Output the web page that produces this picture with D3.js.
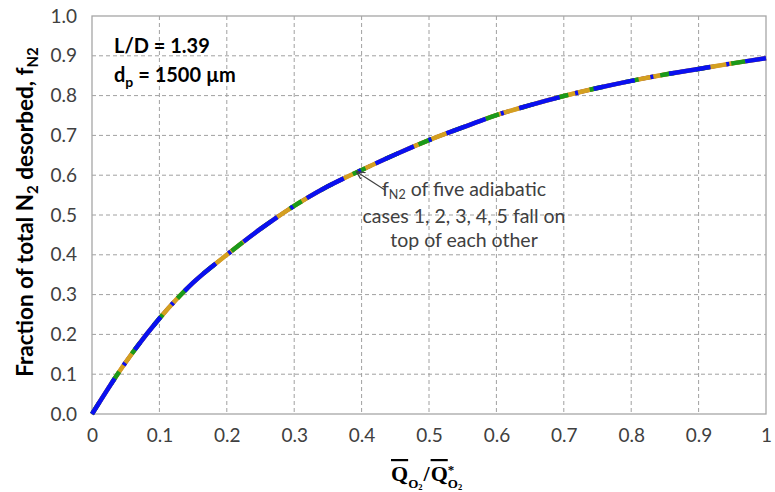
<!DOCTYPE html>
<html><head><meta charset="utf-8">
<script src="https://cdn.jsdelivr.net/npm/d3@7"></script>
<style>body{margin:0;background:#fff}svg{display:block}</style>
</head><body>
<svg id="c" width="775" height="492"></svg>
<script>
const xValues = [0,0.05,0.1,0.15,0.2,0.25,0.3,0.35,0.4,0.45,0.5,0.55,0.6,0.65,0.7,0.75,0.8,0.85,0.9,0.95,1.0];
const case1 = [0,0.13,0.24,0.33,0.40,0.465,0.523,0.572,0.613,0.652,0.688,0.72,0.751,0.776,0.799,0.819,0.837,0.853,0.867,0.881,0.894];
const case2 = [0,0.13,0.24,0.33,0.40,0.465,0.523,0.572,0.613,0.652,0.688,0.72,0.751,0.776,0.799,0.819,0.837,0.853,0.867,0.881,0.894];
const case3 = [0,0.13,0.24,0.33,0.40,0.465,0.523,0.572,0.613,0.652,0.688,0.72,0.751,0.776,0.799,0.819,0.837,0.853,0.867,0.881,0.894];
const case4 = [0,0.13,0.24,0.33,0.40,0.465,0.523,0.572,0.613,0.652,0.688,0.72,0.751,0.776,0.799,0.819,0.837,0.853,0.867,0.881,0.894];
const case5 = [0,0.13,0.24,0.33,0.40,0.465,0.523,0.572,0.613,0.652,0.688,0.72,0.751,0.776,0.799,0.819,0.837,0.853,0.867,0.881,0.894];
const xTicks = [0,0.1,0.2,0.3,0.4,0.5,0.6,0.7,0.8,0.9,1];
const yTicks = [0,0.1,0.2,0.3,0.4,0.5,0.6,0.7,0.8,0.9,1.0];

const svg = d3.select("#c");
const L=92, R=766, T=16, B=414;
const x = d3.scaleLinear().domain([0,1]).range([L,R]);
const y = d3.scaleLinear().domain([0,1]).range([B,T]);
const font = "Lato, 'Open Sans', sans-serif";

// grid
svg.append("g").selectAll("line").data(xTicks.slice(1,-1)).join("line")
  .attr("x1",d=>x(d)).attr("x2",d=>x(d)).attr("y1",T).attr("y2",B)
  .attr("stroke","#a0a0a0").attr("stroke-dasharray","4,3").attr("stroke-width",1);
svg.append("g").selectAll("line").data(yTicks.slice(1,-1)).join("line")
  .attr("y1",d=>y(d)).attr("y2",d=>y(d)).attr("x1",L).attr("x2",R)
  .attr("stroke","#a0a0a0").attr("stroke-dasharray","4,3").attr("stroke-width",1);
svg.append("rect").attr("x",L).attr("y",T).attr("width",R-L).attr("height",B-T)
  .attr("fill","none").attr("stroke","#a6a6a6").attr("stroke-width",1.3);

// axes
const xa = svg.append("g").attr("transform",`translate(0,${B})`)
  .call(d3.axisBottom(x).tickValues(xTicks).tickFormat(d=>d===0||d===1?d3.format("d")(d):d3.format(".1f")(d)).tickSize(0).tickPadding(15));
const ya = svg.append("g").attr("transform",`translate(${L},0)`)
  .call(d3.axisLeft(y).tickValues(yTicks).tickFormat(d3.format(".1f")).tickSize(0).tickPadding(15));
[xa,ya].forEach(a=>{a.select(".domain").remove();
  a.selectAll("text").attr("font-family",font).attr("font-size",19).attr("fill","#404040");});

// curves
const pts = arr => xValues.map((v,i)=>[v,arr[i]]);
const line = d3.line().x(d=>x(d[0])).y(d=>y(d[1])).curve(d3.curveMonotoneX);
const series = [
  {data:case1,color:"#e8607a",w:4,dash:null},
  {data:case2,color:"#7030a0",w:4,dash:"20,10"},
  {data:case3,color:"#d4a020",w:4.5,dash:null},
  {data:case4,color:"#1a9a1a",w:4.5,dash:"14,22"},
  {data:case5,color:"#0a10f0",w:4.5,dash:"42,16,3,16"}
];
svg.append("g").selectAll("path").data(series).join("path")
  .attr("d",d=>line(pts(d.data))).attr("fill","none")
  .attr("stroke",d=>d.color).attr("stroke-width",d=>d.w)
  .attr("stroke-dasharray",d=>d.dash);

// annotation
svg.append("defs").append("marker").attr("id","ah").attr("viewBox","0 0 10 10")
  .attr("refX",9).attr("refY",5).attr("markerWidth",7).attr("markerHeight",7).attr("orient","auto")
  .append("path").attr("d","M0,0 L10,5 L0,10").attr("fill","none").attr("stroke","#404040").attr("stroke-width",1.5);
svg.append("line").attr("x1",385).attr("y1",190).attr("x2",357).attr("y2",172)
  .attr("stroke","#404040").attr("stroke-width",1.2).attr("marker-end","url(#ah)");
const ann = svg.append("g").attr("font-family",font).attr("font-size",19.5).attr("fill","#404040").attr("text-anchor","middle");
const t1 = ann.append("text").attr("x",464).attr("y",196);
t1.append("tspan").text("f");
t1.append("tspan").attr("font-size",12.5).attr("dy",3).text("N2");
t1.append("tspan").attr("dy",-3).text(" of five adiabatic");
ann.append("text").attr("x",464).attr("y",222.5).text("cases 1, 2, 3, 4, 5 fall on");
ann.append("text").attr("x",464).attr("y",247).text("top of each other");

// parameters box
const p = svg.append("g").attr("font-family",font).attr("font-size",20).attr("font-weight","bold").attr("fill","#000");
p.append("text").attr("x",114).attr("y",53).text("L/D = 1.39");
const t2 = p.append("text").attr("x",114).attr("y",82);
t2.append("tspan").text("d");
t2.append("tspan").attr("font-size",14).attr("dy",5).text("p");
t2.append("tspan").attr("dy",-5).text(" = 1500 µm");

// y title
const yt = svg.append("text").attr("transform","translate(33,212) rotate(-90)")
  .attr("text-anchor","middle").attr("font-family",font).attr("font-size",22.5).attr("font-weight","bold");
yt.append("tspan").text("Fraction of total N");
yt.append("tspan").attr("font-size",15).attr("dy",5).text("2");
yt.append("tspan").attr("dy",-5).text(" desorbed, f");
yt.append("tspan").attr("font-size",15).attr("dy",5).text("N2");

// x title (pieces placed one after another)
const xg = svg.append("g").attr("font-family","'Liberation Serif', 'DejaVu Serif', serif").attr("font-weight","bold").attr("fill","#000");
let cx = 391;
const base = 481;
function piece(txt, size, dy, advance=true, deco=null){
  const t = xg.append("text").attr("x",cx).attr("y",base+dy).attr("font-size",size).text(txt);
  if(deco) t.attr("text-decoration",deco);
  const w = t.node().getComputedTextLength();
  if(advance) cx += w;
  return w;
}
piece("Q",22,0,true,"overline");
piece("O",13,7);
piece("2",8.5,9);
cx += 1;
piece("/",22,0);
cx += 1;
piece("Q",22,0,true,"overline");
piece("*",13,-7,false);
piece("O",13,7);
piece("2",8.5,9);
</script>
</body></html>
